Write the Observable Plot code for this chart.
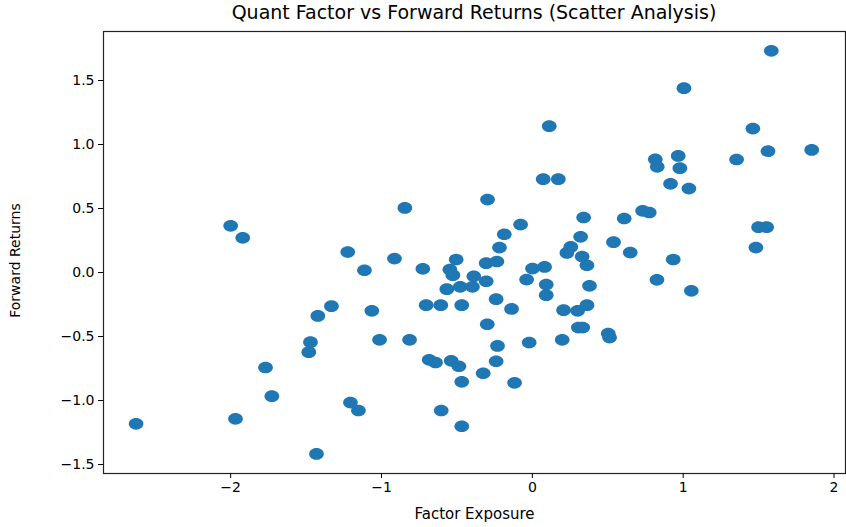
<!DOCTYPE html>
<html>
<head>
<meta charset="utf-8">
<script src="https://cdn.jsdelivr.net/npm/d3@7"></script>
<script src="https://cdn.jsdelivr.net/npm/@observablehq/plot@0.6"></script>
<style>
  html, body { margin: 0; padding: 0; background: #fff; }
  #title { width: 846px; height: 28px; line-height: 25px; box-sizing: border-box; padding-left: 103px; padding-right: 1px; text-align: center; font-family: "DejaVu Sans", sans-serif; font-size: 19px; color: #000; white-space: nowrap; overflow: hidden; }
</style>
</head>
<body>
<div id="title">Quant Factor vs Forward Returns (Scatter Analysis)</div>
<div id="chart"></div>
<script>
const titleText = "Quant Factor vs Forward Returns (Scatter Analysis)";
const xLabel = "Factor Exposure";
const yLabel = "Forward Returns";

const factorExposure = [
  -2.00, -1.92, -1.224, -1.332, -1.422, -1.471, -1.482, -1.769, -1.727, -1.968,
  -2.627, -1.431, -1.206, -1.153, -0.845, -0.297, 0.112, 0.072, 0.172, 0.34,
  -0.078, -0.186, 0.32, -0.218, 0.255, 0.229, 0.33, -0.914, -1.113, -0.726,
  -0.505, -0.547, -0.527, -0.306, -0.235, -0.388, -0.306, -0.567, -0.478, -0.397,
  -0.704, -0.607, -0.468, -0.240, -0.138, -1.064, -0.299, -1.013, -0.814, -0.231,
  -0.021, -0.684, -0.642, -0.538, -0.487, -0.240, -0.326, -0.468, -0.118, -0.604,
  -0.468, -0.038, 0.001, 0.081, 0.092, 0.092, 0.362, 0.379, 0.207, 0.30,
  0.362, 0.305, 0.334, 0.198, 0.503, 0.512, 1.584, 1.005, 1.462, 1.562,
  1.852, 1.354, 0.815, 0.828, 0.967, 0.978, 0.916, 1.038, 0.731, 0.775,
  0.609, 0.538, 0.649, 1.50, 1.553, 1.482, 0.934, 0.826, 1.054
];
const forwardReturns = [
  0.365, 0.271, 0.160, -0.263, -0.339, -0.544, -0.622, -0.742, -0.966, -1.143,
  -1.182, -1.417, -1.016, -1.078, 0.505, 0.570, 1.143, 0.729, 0.729, 0.43,
  0.375, 0.299, 0.279, 0.195, 0.20, 0.153, 0.125, 0.109, 0.018, 0.029,
  0.102, 0.023, -0.021, 0.073, 0.086, -0.029, -0.068, -0.130, -0.112, -0.112,
  -0.255, -0.255, -0.255, -0.208, -0.284, -0.299, -0.404, -0.526, -0.526, -0.573,
  -0.547, -0.682, -0.703, -0.690, -0.732, -0.693, -0.787, -0.854, -0.862, -1.078,
  -1.201, -0.055, 0.031, 0.044, -0.094, -0.177, 0.057, -0.104, -0.294, -0.299,
  -0.255, -0.43, -0.43, -0.526, -0.477, -0.508, 1.732, 1.44, 1.125, 0.948,
  0.958, 0.883, 0.885, 0.826, 0.911, 0.815, 0.693, 0.656, 0.482, 0.469,
  0.422, 0.237, 0.156, 0.354, 0.354, 0.195, 0.102, -0.057, -0.143
];
const xTicks = [-2, -1, 0, 1, 2];
const yTicks = [-1.5, -1.0, -0.5, 0.0, 0.5, 1.0, 1.5];

const data = factorExposure.map((x, i) => ({x, y: forwardReturns[i]}));

// slightly wide ellipse marker, like the reference's stretched dots
const ellipseSymbol = {
  draw(ctx, size) {
    const r = Math.sqrt(size / Math.PI);
    const rx = r * 1.13, ry = r * 0.9, k = 0.5523;
    ctx.moveTo(rx, 0);
    ctx.bezierCurveTo(rx, ry * k, rx * k, ry, 0, ry);
    ctx.bezierCurveTo(-rx * k, ry, -rx, ry * k, -rx, 0);
    ctx.bezierCurveTo(-rx, -ry * k, -rx * k, -ry, 0, -ry);
    ctx.bezierCurveTo(rx * k, -ry, rx, -ry * k, rx, 0);
    ctx.closePath();
  }
};

const chart = Plot.plot({
  width: 846,
  height: 499,
  marginLeft: 103,
  marginRight: 1,
  marginTop: 3,
  marginBottom: 54,
  style: {fontFamily: "DejaVu Sans, sans-serif", fontSize: "14px", color: "#000", background: "#fff"},
  x: {domain: [-2.843, 2.076]},
  y: {domain: [-1.570, 1.883]},
  marks: [
    Plot.dot(data, {x: "x", y: "y", r: 6.5, symbol: ellipseSymbol, fill: "#1f77b4", stroke: "none"}),
    Plot.frame({stroke: "#222", strokeWidth: 1.2}),
    Plot.axisX({ticks: xTicks, tickFormat: d3.format("d"), tickSize: 5, tickPadding: 4, label: null, fontSize: 14}),
    Plot.axisY({ticks: yTicks, tickFormat: d3.format(".1f"), tickSize: 5, tickPadding: 4, label: null, fontSize: 14}),
    Plot.text([xLabel], {text: d => d, frameAnchor: "bottom", dy: 45, fontSize: 15, textAnchor: "middle"}),
    Plot.text([yLabel], {text: d => d, frameAnchor: "left", dx: -88, dy: 8, rotate: -90, fontSize: 14, textAnchor: "middle"})
  ]
});
document.getElementById("chart").appendChild(chart);
</script>
</body>
</html>
